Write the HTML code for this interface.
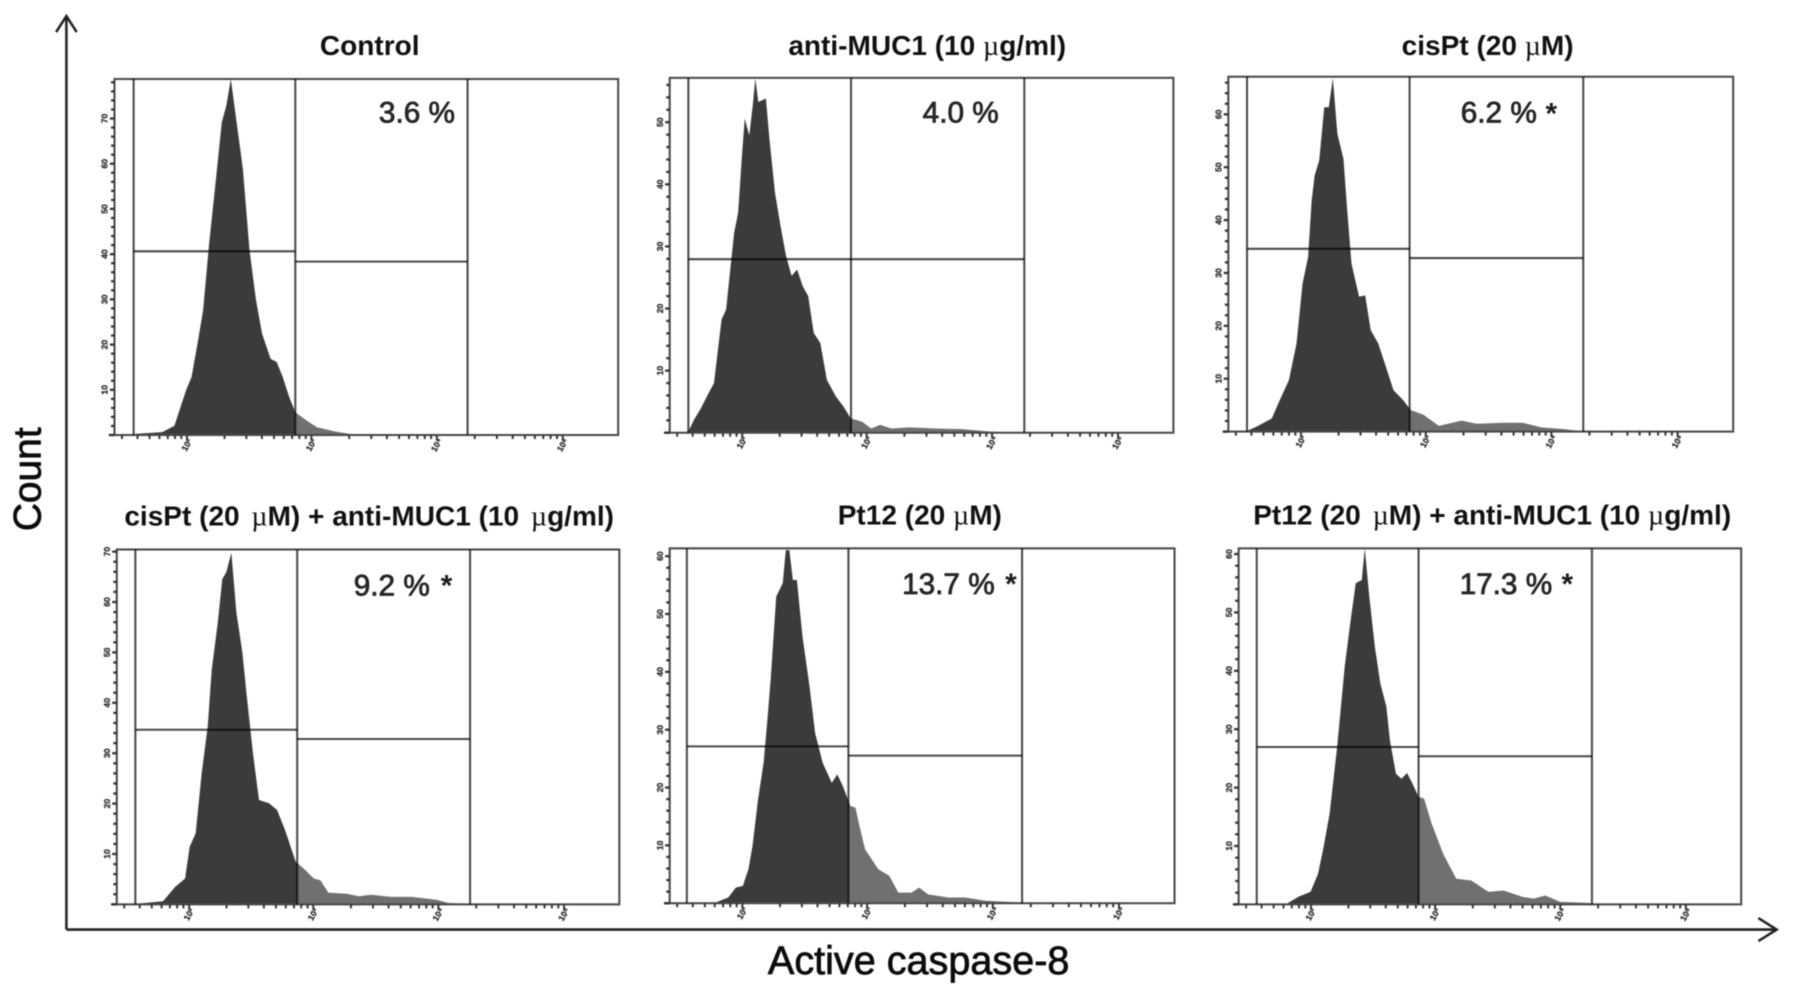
<!DOCTYPE html>
<html lang="en">
<head>
<meta charset="utf-8">
<title>Active caspase-8 flow cytometry histograms</title>
<style>
html,body{margin:0;padding:0;background:#fff;width:1795px;height:993px;overflow:hidden}
svg{display:block;filter:blur(.6px)}
.title{font-family:"Liberation Sans",sans-serif;font-weight:700;font-size:24.5px;fill:#111;text-anchor:middle}
.mu{font-family:"Liberation Serif",serif;font-weight:400}
.pct{font-family:"Liberation Sans",sans-serif;font-size:26px;fill:#262626;stroke:#262626;stroke-width:.7px}
.star{font-family:"Liberation Sans",sans-serif;font-weight:700;font-size:26px;fill:#1c1c1c}
.axis-title{font-family:"Liberation Sans",sans-serif;font-size:34.6px;fill:#0c0c0c;stroke:#0c0c0c;stroke-width:.65px}
.count-title{font-size:34px}
.tick{font-family:"Liberation Sans",sans-serif;font-size:7.5px;font-weight:700;fill:#333;stroke:#333;stroke-width:.3px}
</style>
</head>
<body>
<svg id="figure" xmlns="http://www.w3.org/2000/svg" width="1795" height="993" viewBox="0 0 1568 867.4">
  <rect x="0" y="0" width="1568" height="867.4" fill="#fff"/>
  <g id="panels"></g>

  <path d="M58 812V15" fill="none" stroke="#222" stroke-width="2.2"/>
  <path d="M49 28L58 14L67 28" fill="none" stroke="#222" stroke-width="2.2"/>
  <path d="M58 812H1551" fill="none" stroke="#222" stroke-width="2.2"/>
  <path d="M1536 802L1552 812L1536 822" fill="none" stroke="#222" stroke-width="2.2"/>
  <text class="axis-title count-title" transform="translate(35.5,464) rotate(-90)">Count</text>
  <text class="axis-title" x="802.5" y="851" text-anchor="middle">Active caspase-8</text>

  <text class="title" x="323" y="48">Control</text>
  <text class="title" x="810" y="48">anti-MUC1 (10 <tspan class="mu">µ</tspan>g/ml)</text>
  <text class="title" x="1299.5" y="48">cisPt (20 <tspan class="mu">µ</tspan>M)</text>
  <text class="title" x="322.5" y="459">cisPt (20 <tspan class="mu" dx="3.5">µ</tspan>M) + anti-MUC1 (10 <tspan class="mu" dx="3.5">µ</tspan>g/ml)</text>
  <text class="title" x="803.5" y="458">Pt12 (20 <tspan class="mu">µ</tspan>M)</text>
  <text class="title" x="1303.5" y="458">Pt12 (20 <tspan class="mu" dx="3.5">µ</tspan>M) + anti-MUC1 (10 <tspan class="mu">µ</tspan>g/ml)</text>

  <text class="pct" x="331" y="107">3.6 %</text>
  <text class="pct" x="806" y="107">4.0 %</text>
  <text class="pct" x="1276" y="107">6.2 %</text>
  <text class="star" x="1350" y="108">*</text>
  <text class="pct" x="309" y="520">9.2 %</text>
  <text class="star" x="385" y="520">*</text>
  <text class="pct" x="788" y="519">13.7 %</text>
  <text class="star" x="878" y="519">*</text>
  <text class="pct" x="1275" y="519">17.3 %</text>
  <text class="star" x="1364" y="519">*</text>
</svg>
<script>
// Histogram series: fluorescence channel (percent of axis) and count (percent of tallest peak)
var controlChannels = [3.8,9.5,11.9,13.1,14.2,15.3,16.6,17.6,18.8,20.0,21.3,22.2,23.1,23.9,24.7,25.5,26.8,28.1,29.3,31.0,32.2,33.4,34.7,35.9,38.2,40.2,43.8,46.8,58.2,69.6];
var controlCounts = [0.3,0.8,2.6,7.8,12.5,16.3,26.6,35.1,53.9,69.9,87.8,92.5,100,91.5,83.1,74.6,52,37.9,28.5,21.4,20.5,16.3,10.6,6.4,4,2.2,1,0.3,0.1,0];

var antiMucChannels = [3.7,4.8,6.2,7.7,8.8,9.5,10.3,11.2,12.1,12.8,13.6,14.3,14.9,15.8,16.5,17,17.6,19.1,19.8,20.9,22,23.1,24.2,25.3,26.4,27.5,28.6,29.9,31.2,33,34.5,35.9,38.2,40,41.8,44,47.7,52.8,58,63.8,67.5];
var antiMucCounts = [0.3,3.6,6.9,11.1,14,22.5,31.9,34.7,47,56.4,62.1,77.2,88.5,83.8,92.3,99.8,93.2,94.2,82.8,67.7,58.3,49.8,44.2,46,41.3,38.5,28.1,25.3,14.9,10.2,7.4,4.1,3.1,1.2,2.2,1.2,1.5,1.2,1,0.3,0.1];

var cisptChannels = [3.7,5.6,8.6,10.2,12,13.5,14.7,15.8,16.5,17.1,18,19,19.9,20.7,21.6,22.8,23.5,24.4,25.9,27.1,28.2,29.7,31.2,32.7,34.6,36.1,38.7,41.7,46.2,49.2,54.5,58.3,62,66.5,69.5];
var cisptCounts = [0.2,1.4,3.7,8.9,14.5,24.8,41.7,49.2,65.1,72.2,76.4,91.4,91.4,99.6,83.9,76.9,63.3,47.3,38,38.4,28.6,24.8,18.3,11.7,8.9,6.1,4.7,1.6,3.1,2.2,2.5,2.5,1.2,0.7,0.2];

var cisptMucChannels = [4.3,9.2,11.6,13.6,14.5,15.7,16.9,18.1,18.9,20.1,21,21.8,22.8,23.8,25,25.8,27.1,28.3,30.3,31.9,33.5,35.6,37.2,39.2,40.5,42.1,45.7,48.2,50.6,54.7,58.7,63.6,66,70.1];
var cisptMucCounts = [0.2,0.9,4.9,7.3,16.2,20,37,50.2,66.2,79.4,91.7,93.6,99.1,82.3,70.9,59.6,42.6,29.4,28.5,26.6,20.9,12,10.1,7.3,6.8,3.3,3,2.3,2.7,2.1,2.1,1.3,0.4,0.2];

var pt12Channels = [9.4,11.6,13.1,14.5,15.6,16.4,17.5,18.6,19.3,20,21.1,22.4,23,23.7,24.4,25.2,26.3,27.7,28.8,30.3,32.1,33.2,34.3,35.8,36.8,37.6,38.7,41.3,43.5,45.3,47.9,49.4,51.2,55.2,58.5,62.6,69.9];
var pt12Counts = [0.4,1.6,4.4,4.9,9.6,16.1,29.2,39.6,50.8,63,86.4,90.2,99.5,99.5,91.1,91.1,75.2,61.1,48,39.6,33.9,36.3,33,27.4,26.9,21.7,15.2,9.6,7.7,3,3,4.4,2.5,1.6,1.6,0.7,0.2];

var pt12MucChannels = [9.8,12,14.3,15.8,16.9,18.1,19.6,21.1,22.2,23.3,24.5,25.1,26,27.1,28.2,29.4,30.1,31.3,32.4,33.5,34.6,35.8,36.9,38.4,40.7,43.3,46.3,49.7,52.7,56.5,58.7,61,64,70];
var pt12MucCounts = [0.4,2.2,3.5,8.6,16.1,25.5,44.2,66.7,78.9,90.2,91.1,100,86.4,72.4,62,55.5,46.1,36.7,35.3,36.9,33.9,30.2,29.7,22.7,14.2,7.2,6.7,3.5,3.9,2.1,1.6,2.5,0.7,0.4];

// Marker gates: channel limits and heights of left/right gate bars
var gateChannelsControl = [3.8,35.9,70.1];
var gateChannelsAntiMuc = [3.7,36.0,70.4];
var gateChannelsCispt = [3.7,35.9,70.3];
var gateChannelsCisptMuc = [3.7,35.9,70.3];
var gateChannelsPt12 = [3.4,35.4,69.8];
var gateChannelsPt12Muc = [3.6,35.8,70.3];
var gateHeightsControl = [51.6,48.7];
var gateHeightsAntiMuc = [48.9,48.9];
var gateHeightsCispt = [51.5,48.9];
var gateHeightsCisptMuc = [49.2,46.6];
var gateHeightsPt12 = [44.2,41.6];
var gateHeightsPt12Muc = [44.2,41.6];

// Axis tick values and labels
var xDecades = [14.4,39.1,64,89];
var xDecadeLabels = ["10²","10³","10⁴","10⁵"];
var yTickStepControl = 12.7;
var yTickStepAntiMuc = 17.5;
var yTickStepCispt = 14.9;
var yTickStepCisptMuc = 14.2;
var yTickStepPt12 = 16.3;
var yTickStepPt12Muc = 16.4;
var yTickLabels = ["10","20","30","40","50","60","70"];

var panelList = [
  {id:"control",left:100,right:540,top:69,bottom:380,ch:controlChannels,ct:controlCounts,gates:gateChannelsControl,gh:gateHeightsControl,step:yTickStepControl},
  {id:"anti-muc1",left:585,right:1025,top:68,bottom:378,ch:antiMucChannels,ct:antiMucCounts,gates:gateChannelsAntiMuc,gh:gateHeightsAntiMuc,step:yTickStepAntiMuc},
  {id:"cispt",left:1073,right:1514,top:67,bottom:377,ch:cisptChannels,ct:cisptCounts,gates:gateChannelsCispt,gh:gateHeightsCispt,step:yTickStepCispt},
  {id:"cispt-anti-muc1",left:102,right:541,top:480,bottom:790,ch:cisptMucChannels,ct:cisptMucCounts,gates:gateChannelsCisptMuc,gh:gateHeightsCisptMuc,step:yTickStepCisptMuc},
  {id:"pt12",left:585,right:1026,top:479,bottom:789,ch:pt12Channels,ct:pt12Counts,gates:gateChannelsPt12,gh:gateHeightsPt12,step:yTickStepPt12},
  {id:"pt12-anti-muc1",left:1082,right:1521,top:479,bottom:790,ch:pt12MucChannels,ct:pt12MucCounts,gates:gateChannelsPt12Muc,gh:gateHeightsPt12Muc,step:yTickStepPt12Muc}
];

var NS = "http://www.w3.org/2000/svg";
var root = document.getElementById("panels");

function xScale(p, v){ return p.left + v / 100 * (p.right - p.left); }
function yScale(p, v){ return p.bottom - v / 100 * (p.bottom - p.top); }

function el(parent, tag, attrs){
  var n = document.createElementNS(NS, tag);
  for (var k in attrs) n.setAttribute(k, attrs[k]);
  parent.appendChild(n);
  return n;
}

function areaPath(p){
  var d = "M" + xScale(p, p.ch[0]).toFixed(2) + " " + yScale(p, 0).toFixed(2);
  for (var i = 0; i < p.ch.length; i++) {
    d += "L" + xScale(p, p.ch[i]).toFixed(2) + " " + yScale(p, p.ct[i]).toFixed(2);
  }
  d += "L" + xScale(p, p.ch[p.ch.length - 1]).toFixed(2) + " " + yScale(p, 0).toFixed(2) + "Z";
  return d;
}

var defs = el(document.getElementById("figure"), "defs", {});

panelList.forEach(function(p){
  var g = el(root, "g", {});
  
  

  var split = xScale(p, p.gates[1]);
  var clipA = el(defs, "clipPath", {id:"neg-" + p.id});
  el(clipA, "rect", {x:p.left, y:p.top - 5, width:split - p.left, height:p.bottom - p.top + 10});
  var clipB = el(defs, "clipPath", {id:"pos-" + p.id});
  el(clipB, "rect", {x:split, y:p.top - 5, width:p.right - split, height:p.bottom - p.top + 10});

  var d = areaPath(p);
  var neg = el(g, "path", {d:d, fill:"#3b3b3b", "clip-path":"url(#neg-" + p.id + ")"});
  
  
  var pos = el(g, "path", {d:d, fill:"#707070", "clip-path":"url(#pos-" + p.id + ")"});
  
  

  var frame = el(g, "rect", {x:p.left, y:p.top, width:p.right - p.left, height:p.bottom - p.top, fill:"none", stroke:"#4a4a4a", "stroke-width":1.8});
  
  

  p.gates.forEach(function(c, i){
    var gl = el(g, "line", {x1:xScale(p, c), x2:xScale(p, c), y1:p.top, y2:p.bottom, stroke:"#4a4a4a", "stroke-width":1.8, style:"mix-blend-mode:multiply"});
    
    
  });
  p.gh.forEach(function(h, i){
    var hl = el(g, "line", {x1:xScale(p, p.gates[i]), x2:xScale(p, p.gates[i + 1]), y1:yScale(p, h), y2:yScale(p, h), stroke:"#4a4a4a", "stroke-width":1.8, style:"mix-blend-mode:multiply"});
    
    
  });

  // Y axis minor ticks and major labels
  for (var v = 0, n = 0; v <= 100.01; v += p.step / 5, n++) {
    var major = n % 5 === 0;
    var t = el(g, "line", {x1:p.left - (major ? 4 : 3), x2:p.left, y1:yScale(p, v), y2:yScale(p, v), stroke:"#333", "stroke-width":2});
    
    
    if (major && n > 0 && (n / 5 - 1) < yTickLabels.length) {
      var lab = el(g, "text", {class:"tick", "text-anchor":"middle", transform:"translate(" + (p.left - 6) + "," + yScale(p, v) + ") rotate(-90)"});
      lab.textContent = yTickLabels[n / 5 - 1];
      
      
    }
  }
  var zeroTick = el(g, "line", {x1:p.left - 5, x2:p.left, y1:p.bottom, y2:p.bottom, stroke:"#333", "stroke-width":2});
  
  

  // X axis log ticks and decade labels
  xDecades.forEach(function(c, i){
    var width = i > 0 ? c - xDecades[i - 1] : xDecades[1] - xDecades[0];
    for (var k = 2; k <= 10; k++) {
      var pos2 = c - width + Math.log10(k) * width;
      if (pos2 < 0) continue;
      var mt = el(g, "line", {x1:xScale(p, pos2), x2:xScale(p, pos2), y1:p.bottom, y2:p.bottom + (k === 10 ? 5 : 3.5), stroke:"#333", "stroke-width":1.7});
      
      
    }
    var xl = el(g, "text", {class:"tick", "text-anchor":"middle", transform:"translate(" + (xScale(p, c) + 2) + "," + (p.bottom + 10) + ") rotate(-60)"});
    xl.textContent = xDecadeLabels[i];
    
    
  });
});
</script>
</body>
</html>
